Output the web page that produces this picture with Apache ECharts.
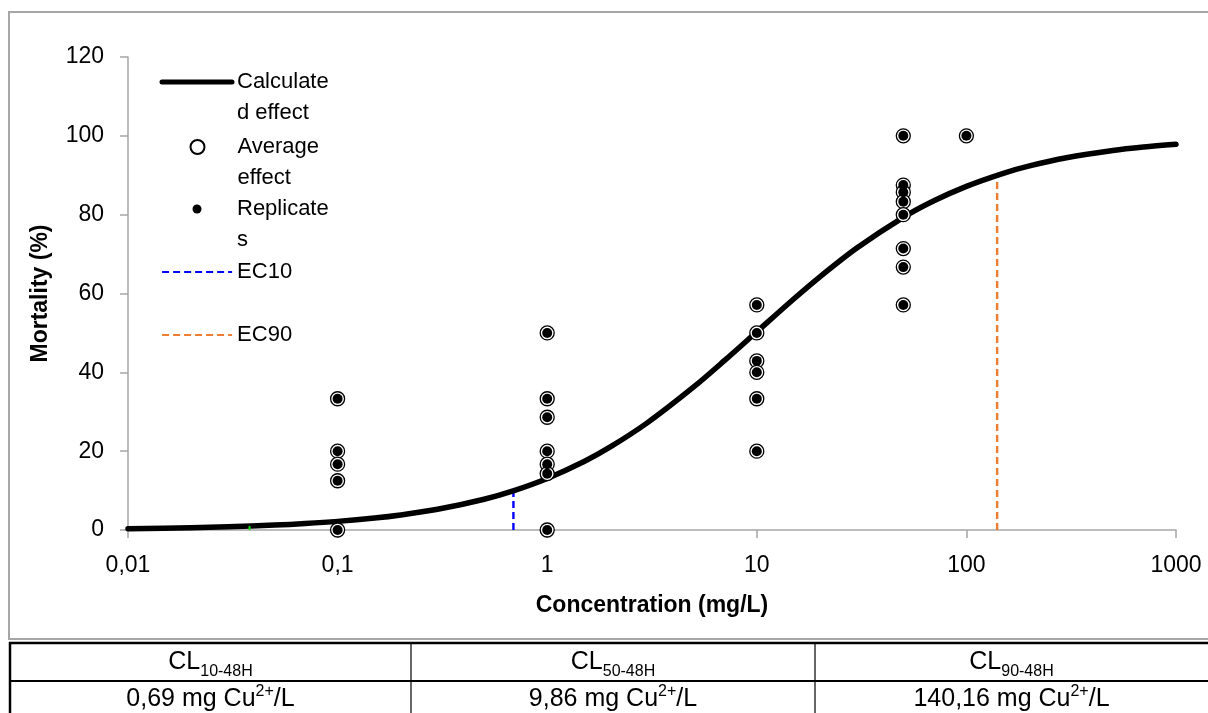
<!DOCTYPE html>
<html>
<head>
<meta charset="utf-8">
<script src="https://cdn.jsdelivr.net/npm/echarts@6/dist/echarts.min.js"></script>
<style>
html,body{margin:0;padding:0;background:#fff;}
#chart{width:1208px;height:713px;}
</style>
</head>
<body>
<div id="chart"></div>
<script>
// ---- data ----
var xTickLabels = ['0,01', '0,1', '1', '10', '100', '1000'];
var yTicks = [0, 20, 40, 60, 80, 100, 120];

// calculated effect curve (concentration mg/L, mortality %)
var curveX = [0.01, 0.02, 0.03, 0.05, 0.07, 0.1, 0.15, 0.2, 0.3, 0.5, 0.7, 1, 1.5, 2, 3, 5, 7, 10, 15, 20, 30, 50, 70, 100, 150, 200, 300, 500, 700, 1000];
var curveY = [0.33, 0.59, 0.82, 1.24, 1.64, 2.19, 3.03, 3.82, 5.25, 7.81, 10.06, 13.07, 17.38, 21.07, 27.18, 36.3, 42.96, 50.29, 58.6, 64.23, 71.53, 79.32, 83.52, 87.19, 90.5, 92.36, 94.42, 96.27, 97.15, 97.86];

// replicate points
var repX = [0.1, 0.1, 0.1, 0.1, 0.1,
            1, 1, 1, 1, 1, 1, 1,
            10, 10, 10, 10, 10, 10,
            50, 50, 50, 50, 50, 50, 50, 50,
            100];
var repY = [33.3, 20, 16.7, 12.5, 0,
            50, 33.3, 28.6, 20, 16.7, 14.3, 0,
            57.1, 50, 42.9, 40, 33.3, 20,
            100, 87.5, 85.7, 83.3, 80, 71.4, 66.7, 57.1,
            100];

// average-effect rings (drawn around each visible point)
var avgX = repX.slice();
var avgY = repY.slice();

// effect-concentration markers
var ec10X = [0.69, 0.69];
var ec10Y = [0, 10.06];
var ec90X = [140.16, 140.16];
var ec90Y = [0, 90.4];
var ec01X = [0.038, 0.038];
var ec01Y = [0, 1];

// table
var tableHead = ['10-48H', '50-48H', '90-48H'];
var tableVals = ['0,69', '9,86', '140,16'];

// ---- build ----
function pairs(xs, ys) { return xs.map(function (x, i) { return [x, ys[i]]; }); }

var FONT = '"Liberation Sans", Arial, sans-serif';
var FS = 22;      // legend
var TFS = 23;     // tick labels
var NFS = 23;     // axis titles
var LH = 31;
var chart = echarts.init(document.getElementById('chart'), null, {renderer: 'canvas'});

function legendItem(name, left, top, iw, ih, text, icon, hideSymbol, lineWidth) {
  var d = {name: name};
  if (icon) d.icon = icon;
  var l = {
    show: true,
    orient: 'vertical',
    left: left,
    top: top,
    padding: 0,
    itemWidth: iw,
    itemHeight: ih,
    selectedMode: false,
    data: [d],
    formatter: function () { return text; },
    textStyle: {fontFamily: FONT, fontSize: FS, color: '#000', lineHeight: LH}
  };
  if (hideSymbol) l.itemStyle = {opacity: 0};
  if (lineWidth) l.lineStyle = {width: lineWidth};
  return l;
}

var tableLeft = 10, c1 = 411, c2 = 815, tableRight = 1210;
var colCenters = [(tableLeft + c1) / 2, (c1 + c2) / 2, (c2 + tableRight - 2) / 2];
var graphics = [
  {type: 'polyline', silent: true, shape: {points: [[1210, 12], [9, 12], [9, 639], [1210, 639]]},
   style: {stroke: '#a6a6a6', lineWidth: 2, fill: null}},
  {type: 'line', shape: {x1: 9, y1: 643, x2: 1210, y2: 643}, style: {stroke: '#000', lineWidth: 2.5}},
  {type: 'line', shape: {x1: 9, y1: 681, x2: 1210, y2: 681}, style: {stroke: '#000', lineWidth: 2}},
  {type: 'line', shape: {x1: 10, y1: 642, x2: 10, y2: 714}, style: {stroke: '#000', lineWidth: 2.5}},
  {type: 'line', shape: {x1: c1, y1: 643, x2: c1, y2: 714}, style: {stroke: '#000', lineWidth: 1.2}},
  {type: 'line', shape: {x1: c2, y1: 643, x2: c2, y2: 714}, style: {stroke: '#000', lineWidth: 1.2}}
];
var rich = {
  m: {fontFamily: FONT, fontSize: 25, color: '#000', lineHeight: 30, verticalAlign: 'middle'},
  sub: {fontFamily: FONT, fontSize: 16, color: '#000', lineHeight: 18, verticalAlign: 'bottom', padding: [0, 0, -3, 0]},
  sup: {fontFamily: FONT, fontSize: 16, color: '#000', lineHeight: 20, verticalAlign: 'top'}
};
tableHead.forEach(function (h, i) {
  graphics.push({type: 'text', x: colCenters[i], y: 662,
    style: {text: '{m|CL}{sub|' + h + '}', rich: rich, align: 'center', verticalAlign: 'middle'}});
});
tableVals.forEach(function (v, i) {
  graphics.push({type: 'text', x: colCenters[i], y: 699,
    style: {text: '{m|' + v + ' mg Cu}{sup|2+}{m|/L}', rich: rich, align: 'center', verticalAlign: 'middle'}});
});

var option = {
  animation: false,
  backgroundColor: '#fff',
  grid: {left: 128, right: 32, top: 57, bottom: 183, containLabel: false},
  xAxis: {
    type: 'log', logBase: 10, min: 0.01, max: 1000,
    name: 'Concentration (mg/L)', nameLocation: 'middle', nameGap: 64,
    nameTextStyle: {fontFamily: FONT, fontSize: NFS, fontWeight: 'bold', color: '#000'},
    axisLine: {show: true, onZero: false, lineStyle: {color: '#a6a6a6', width: 1.5}},
    axisTick: {show: true, inside: false, length: 8, lineStyle: {color: '#a6a6a6', width: 1.5}},
    minorTick: {show: false},
    splitLine: {show: false},
    axisLabel: {
      margin: 24, fontFamily: FONT, fontSize: TFS, color: '#000',
      formatter: function (v) {
        var k = Math.round(Math.log10(v)) + 2;
        return xTickLabels[k] !== undefined ? xTickLabels[k] : '';
      }
    }
  },
  yAxis: {
    type: 'value', min: yTicks[0], max: yTicks[yTicks.length - 1], interval: 20,
    name: 'Mortality (%)', nameLocation: 'middle', nameGap: 76,
    nameTextStyle: {fontFamily: FONT, fontSize: NFS, fontWeight: 'bold', color: '#000'},
    axisLine: {show: true, lineStyle: {color: '#a6a6a6', width: 1.5}},
    axisTick: {show: true, inside: false, length: 8, lineStyle: {color: '#a6a6a6', width: 1.5}},
    splitLine: {show: false},
    axisLabel: {margin: 24, fontFamily: FONT, fontSize: TFS, color: '#000'}
  },
  legend: [
    legendItem('Calculated effect', 159.5, 35.5, 70, 14, '\nCalculate\nd effect', null, true, 5),
    legendItem('Average effect', 189.5, 100.5, 70, 14, '\nAverage\neffect', 'circle', false),
    legendItem('Replicates', 192.5, 162.5, 70, 9, '\nReplicate\ns', 'circle', false),
    legendItem('EC10', 161, 256.5, 70, 14, 'EC10', null, true, 2.2),
    legendItem('EC90', 161, 319.5, 70, 14, 'EC90', null, true, 2.2)
  ],
  series: [
    {
      name: 'Calculated effect', type: 'line', data: pairs(curveX, curveY),
      symbol: 'none', smooth: 0.3, z: 2,
      lineStyle: {color: '#000', width: 5.5, cap: 'round', join: 'round'}, itemStyle: {color: '#000'}
    },
    {
      name: 'EC10', type: 'line', data: pairs(ec10X, ec10Y), symbol: 'none', z: 1,
      lineStyle: {color: '#0000ff', width: 2.4, type: [7, 4]}, itemStyle: {color: '#0000ff'}
    },
    {
      name: 'EC90', type: 'line', data: pairs(ec90X, ec90Y), symbol: 'none', z: 1,
      lineStyle: {color: '#ed7d31', width: 2.4, type: [7, 4]}, itemStyle: {color: '#ed7d31'}
    },
    {
      name: 'EC01', type: 'line', data: pairs(ec01X, ec01Y), symbol: 'none', z: 3,
      lineStyle: {color: '#00e000', width: 2}, itemStyle: {color: '#00e000'}
    },
    {
      name: 'Average effect', type: 'scatter', data: pairs(avgX, avgY),
      symbol: 'circle', symbolSize: 14, symbolKeepAspect: true, z: 4,
      itemStyle: {color: '#fff', borderColor: '#000', borderWidth: 1.3, opacity: 1}
    },
    {
      name: 'Replicates', type: 'scatter', data: pairs(repX, repY),
      symbol: 'circle', symbolSize: 10, symbolKeepAspect: true, z: 5,
      itemStyle: {color: '#000', opacity: 1}
    }
  ],
  graphic: graphics
};
chart.setOption(option);
</script>
</body>
</html>
